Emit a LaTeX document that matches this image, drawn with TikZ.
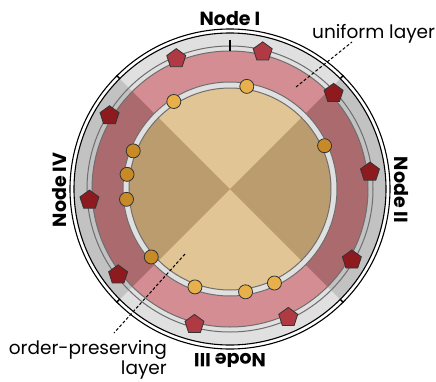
\documentclass[tikz,border=0pt]{standalone}
\usepackage{fontspec}
\setmainfont{Poppins}
\usetikzlibrary{shapes.geometric}

\definecolor{tanL}{HTML}{E2C595}
\definecolor{tanD}{HTML}{BB9C6E}
\definecolor{pinkL}{HTML}{D48E93}
\definecolor{pinkD}{HTML}{AB6A6E}
\definecolor{greyL}{HTML}{E0E0E0}
\definecolor{greyD}{HTML}{C2C2C2}
\definecolor{pentL}{HTML}{B03A44}
\definecolor{pentD}{HTML}{8C1A1F}
\definecolor{dotL}{HTML}{E8B04A}
\definecolor{dotD}{HTML}{C88A26}
\definecolor{edgegrey}{HTML}{6E6E6E}

\tikzset{
    ringline/.style={draw=edgegrey, line width=1pt},
    rim/.style={draw=black, fill=white, line width=1.1pt},
    pent/.style={regular polygon, regular polygon sides=5, minimum size=20pt, inner sep=0pt, draw=black!80, line width=0.8pt},
    dot/.style={circle, minimum size=14pt, inner sep=0pt, draw=black!80, line width=0.8pt},
    nodelabel/.style={font=\bfseries\fontsize{19}{22}\selectfont},
    layerlabel/.style={font=\fontsize{18.5}{20}\selectfont, inner sep=0pt},
    pointer/.style={draw=black, line width=1pt, dash pattern=on 3pt off 2pt}
}

\begin{document}
\begin{tikzpicture}[x=1pt, y=1pt]
    \useasboundingbox (-230,-192) rectangle (206,189);

    % bands
    \fill[greyL] (0,0) circle (156);
    \fill[greyD] (0,0) -- (-45:156) arc (-45:45:156) -- cycle;
    \fill[greyD] (0,0) -- (135:156) arc (135:225:156) -- cycle;
    \fill[pinkL] (0,0) circle (138);
    \fill[pinkD] (0,0) -- (-45:138) arc (-45:45:138) -- cycle;
    \fill[pinkD] (0,0) -- (135:138) arc (135:225:138) -- cycle;
    \fill[tanL] (0,0) circle (104);
    \fill[tanD] (0,0) -- (-45:104) arc (-45:45:104) -- cycle;
    \fill[tanD] (0,0) -- (135:104) arc (135:225:104) -- cycle;

    % rings
    \path[ringline, fill=black!12, even odd rule] (0,0) circle (107) (0,0) circle (101);
    \draw[ringline] (0,0) circle (138);
    \draw[ringline] (0,0) circle (143);
    \draw[rim] (45:156) arc (45:135:156) -- (135:160) arc (135:45:160) -- cycle;
    \draw[rim] (135:156) arc (135:225:156) -- (225:160) arc (225:135:160) -- cycle;
    \draw[rim] (225:156) arc (225:315:156) -- (315:160) arc (315:225:160) -- cycle;
    \draw[rim] (-45:156) arc (-45:45:156) -- (45:160) arc (45:-45:160) -- cycle;
    \draw[black, line width=1.2pt] (90:138) -- (90:149);

    % order-preserving layer
    \begin{scope}[every node/.style={dot}]
        \node[fill=dotL] (c1) at (80.7:104) {};
        \node[fill=dotL] (c2) at (122.7:104) {};
        \node[fill=dotD] (c3) at (24.6:104) {};
        \node[fill=dotD] (c4) at (158.5:104) {};
        \node[fill=dotD] (c5) at (171.9:104) {};
        \node[fill=dotD] (c6) at (185.7:104) {};
        \node[fill=dotD] (c7) at (220.8:104) {};
        \node[fill=dotL] (c8) at (250.3:104) {};
        \node[fill=dotL] (c9) at (278.6:104) {};
        \node[fill=dotL] (c10) at (295.3:104) {};
    \end{scope}

    % uniform layer
    \begin{scope}[every node/.style={pent}]
        \node[fill=pentL] (p1) at (112.4:141) {};
        \node[fill=pentL] (p2) at (76.6:141) {};
        \node[fill=pentD] (p3) at (42.7:141) {};
        \node[fill=pentD] (p4) at (6.9:141) {};
        \node[fill=pentD] (p5) at (-30.2:141) {};
        \node[fill=pentL] (p6) at (-65.6:141) {};
        \node[fill=pentL] (p7) at (-104.7:140) {};
        \node[fill=pentD] (p8) at (-142.5:141) {};
        \node[fill=pentD] (p9) at (184.5:141) {};
        \node[fill=pentD] (p10) at (148.7:141) {};
    \end{scope}

    % labels
    \node[nodelabel] (n1) at (0,170) {Node I};
    \node[nodelabel, rotate=-90] (n2) at (171.5,-1) {Node II};
    \node[nodelabel, rotate=180] (n3) at (0,-171) {Node III};
    \node[nodelabel, rotate=90] (n4) at (-170,-1) {Node IV};

    \node[layerlabel, anchor=base west] (uni) at (82,151) {uniform layer};
    \node[layerlabel, anchor=north east, align=right] (ord) at (-63,-151) {order-preserving\\layer};

    \coordinate (uniA) at (66,102);
    \coordinate (uniB) at (122,147);
    \coordinate (ordA) at (-45,-65);
    \coordinate (ordB) at (-116,-144);
    \path[pointer] (uniA) edge (uniB);
    \path[pointer] (ordA) edge (ordB);
\end{tikzpicture}
\end{document}
